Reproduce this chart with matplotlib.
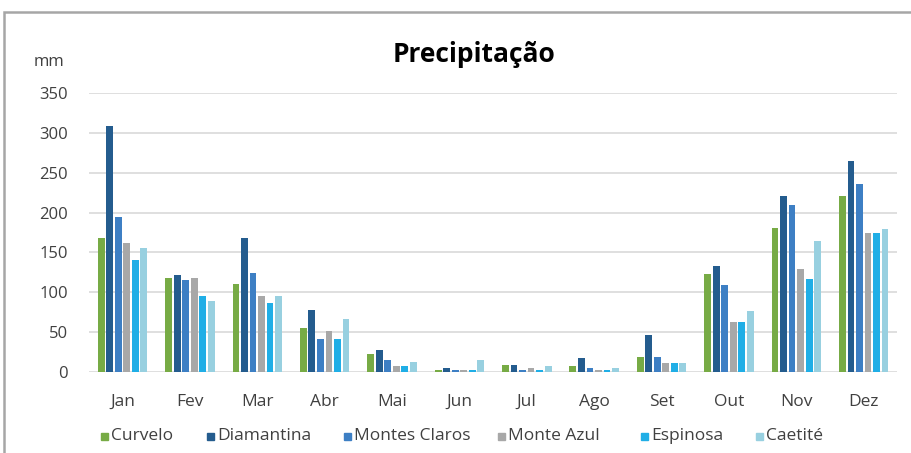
import numpy as np
import matplotlib.pyplot as plt
from matplotlib.patches import Rectangle

months = ['Jan', 'Fev', 'Mar', 'Abr', 'Mai', 'Jun', 'Jul', 'Ago', 'Set', 'Out', 'Nov', 'Dez']
stations = ['Curvelo', 'Diamantina', 'Montes Claros', 'Monte Azul', 'Espinosa', 'Caetité']

curvelo = [168, 118, 110, 55, 23, 2, 9, 8, 19, 123, 181, 221]
diamantina = [309, 122, 168, 78, 28, 5, 9, 17, 46, 133, 221, 265]
montes_claros = [194, 115, 124, 41, 15, 2, 3, 5, 19, 109, 210, 236]
monte_azul = [162, 118, 95, 52, 8, 2, 5, 2, 11, 63, 129, 175]
espinosa = [141, 95, 87, 41, 8, 2, 3, 3, 11, 63, 117, 175]
caetite = [156, 89, 95, 66, 13, 15, 8, 5, 11, 77, 164, 180]

series = [curvelo, diamantina, montes_claros, monte_azul, espinosa, caetite]
colors = ['#77ab45', '#245c8e', '#3d7fc4', '#a8a8a8', '#20aee6', '#98d0e0']

plt.rcParams['font.family'] = ['Open Sans', 'DejaVu Sans']
W, H = 912, 453

fig = plt.figure(figsize=(W / 100, H / 100), dpi=100)
ax = fig.add_axes([0.0974, 0.1788, 0.8866, 0.6159])

x = np.arange(len(months))
n = len(series)
slot = 0.76 / n
bw = slot * 0.8
for i, (vals, c) in enumerate(zip(series, colors)):
    off = (i - (n - 1) / 2) * slot
    ax.bar(x + off, vals, width=bw, color=c, zorder=3)

ax.set_xlim(-0.5, len(months) - 0.5)
ax.set_ylim(0, 350)
ax.set_yticks(range(0, 351, 50))
ax.set_xticks(x)
ax.set_xticklabels(months)
ax.yaxis.grid(True, color='#d9d9d9', linewidth=1.2, zorder=0)
for s in ax.spines.values():
    s.set_visible(False)
ax.tick_params(axis='y', length=0, labelsize=12, colors='#404040', pad=15)
ax.tick_params(axis='x', length=0, labelsize=12.5, colors='#404040', pad=16)

fig.text(474 / W, 1 - 54 / H, 'Precipitação', ha='center', va='center',
         fontsize=19, fontweight='bold', color='black')
fig.text(49 / W, 1 - 62 / H, 'mm', ha='center', va='center', fontsize=12, color='#404040')

# legend entries placed by hand to follow the reference spacing
leg_x = [101, 207, 344, 498, 641, 756]
leg_y = 436
for lx, name, c in zip(leg_x, stations, colors):
    fig.patches.append(Rectangle((lx / W, 1 - (leg_y + 4) / H), 7 / W, 7 / H,
                                 transform=fig.transFigure, color=c))
    fig.text((lx + 10) / W, 1 - leg_y / H, name, ha='left', va='center',
             fontsize=12.5, color='#404040')

fig.patches.append(Rectangle((0.004, -0.01), 1.2, 0.984, transform=fig.transFigure,
                             fill=False, edgecolor='#a6a6a6', linewidth=1.8))

fig.savefig('out.png', dpi=100)
